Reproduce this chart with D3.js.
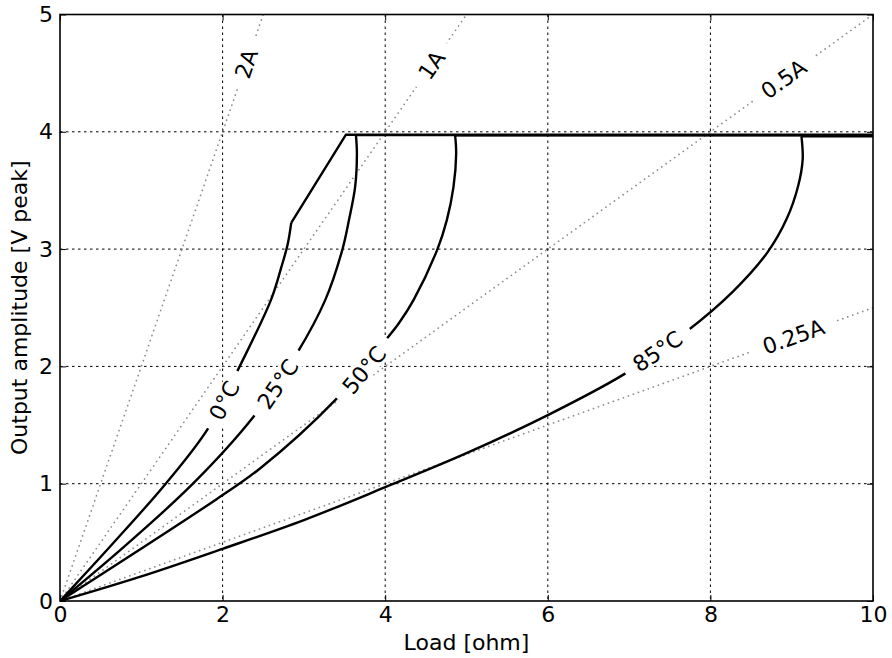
<!DOCTYPE html>
<html>
<head>
<meta charset="utf-8">
<script src="https://cdn.jsdelivr.net/npm/d3@7"></script>
<style>
body { margin: 0; background: #fff; }
text { font-family: "DejaVu Sans", sans-serif; fill: #000; }
</style>
</head>
<body>
<div id="chart"></div>
<script>
var svgWidth = 892;
var svgHeight = 658;
var margin = {top: 14.5, right: 19, bottom: 57, left: 60};
var width = svgWidth - margin.left - margin.right;
var height = svgHeight - margin.top - margin.bottom;

// tick values
var xTicks = [0, 2, 4, 6, 8, 10];
var yTicks = [0, 1, 2, 3, 4, 5];

// constant current guide lines (V = I * R)
var currentNames = ["2A", "1A", "0.5A", "0.25A"];
var currentEndX = [2.5, 5, 10, 10];
var currentEndY = [5, 5, 5, 2.5];
var currentLabelX = [2.29, 4.57, 8.9, 9.02];
var currentLabelY = [4.58, 4.57, 4.45, 2.255];

// temperature curves: smooth part, then the straight part to the clip level
var tempNames = ["0°C", "25°C", "50°C", "85°C"];
var tempLabelX = [2.02, 2.68, 3.74, 7.35];
var tempLabelY = [1.71, 1.85, 1.97, 2.13];

var t0Smooth = [[0, 0], [0.65, 0.49], [1.3, 1.0], [1.82, 1.47], [2.21, 2.0],
  [2.594, 2.565], [2.72, 2.84], [2.8, 3.04], [2.844, 3.224]];
var t0Straight = [[2.844, 3.224], [3.517, 3.975], [10, 3.975]];

var t25Smooth = [[0, 0], [0.8, 0.47], [1.635, 1.0], [2.38, 1.571],
  [2.914, 2.111], [3.262, 2.565], [3.475, 3.0], [3.555, 3.25], [3.63, 3.53],
  [3.652, 3.816], [3.64, 3.972]];
var t25Straight = [[3.64, 3.972], [10, 3.972]];

var t50Smooth = [[0, 0], [1.93, 0.87], [2.46, 1.13], [3.385, 1.713],
  [4.0, 2.22], [4.17, 2.37], [4.348, 2.565], [4.643, 3.0], [4.758, 3.247], [4.84, 3.53],
  [4.873, 3.816], [4.86, 3.97]];
var t50Straight = [[4.86, 3.97], [10, 3.97]];

var t85Smooth = [[0, 0], [1, 0.21], [2, 0.445], [3, 0.69], [4, 0.97], [5, 1.26], [6, 1.585],
  [6.93, 1.93], [7.71, 2.3], [8.28, 2.64], [8.7, 2.97], [8.94, 3.26], [9.08, 3.54],
  [9.135, 3.765], [9.12, 3.962]];
var t85Straight = [[9.12, 3.962], [10, 3.962]];

var tempSmooth = [t0Smooth, t25Smooth, t50Smooth, t85Smooth];
var tempStraight = [t0Straight, t25Straight, t50Straight, t85Straight];

var svg = d3.select("#chart")
  .append("svg")
  .attr("width", svgWidth)
  .attr("height", svgHeight);

var chartGroup = svg.append("g")
  .attr("transform", `translate(${margin.left}, ${margin.top})`);

var xScale = d3.scaleLinear().domain([0, 10]).range([0, width]);
var yScale = d3.scaleLinear().domain([0, 5]).range([height, 0]);

chartGroup.append("clipPath").attr("id", "plotclip")
  .append("rect").attr("width", width).attr("height", height);

// grid
var grid = chartGroup.append("g")
  .attr("stroke", "#000")
  .attr("stroke-width", 1)
  .attr("stroke-dasharray", "2.5,3.5");
grid.selectAll(".vg").data(xTicks.slice(1, -1)).enter().append("line")
  .attr("x1", d => xScale(d)).attr("x2", d => xScale(d))
  .attr("y1", 0).attr("y2", height);
grid.selectAll(".hg").data(yTicks.slice(1, -1)).enter().append("line")
  .attr("y1", d => yScale(d)).attr("y2", d => yScale(d))
  .attr("x1", 0).attr("x2", width);

var plot = chartGroup.append("g").attr("clip-path", "url(#plotclip)");

// current lines
plot.selectAll(".cur").data(currentNames).enter().append("line")
  .attr("x1", xScale(0)).attr("y1", yScale(0))
  .attr("x2", (d, i) => xScale(currentEndX[i]))
  .attr("y2", (d, i) => yScale(currentEndY[i]))
  .attr("stroke", "#8c8c8c")
  .attr("stroke-width", 1.7)
  .attr("stroke-linecap", "round")
  .attr("stroke-dasharray", "0.1,5.2");

// temperature curves
var smoothLine = d3.line()
  .x(d => xScale(d[0])).y(d => yScale(d[1]))
  .curve(d3.curveCatmullRom.alpha(0.5));
var straightLine = d3.line()
  .x(d => xScale(d[0])).y(d => yScale(d[1]));

tempSmooth.forEach(function(pts, i) {
  plot.append("path")
    .attr("d", smoothLine(pts))
    .attr("fill", "none").attr("stroke", "#000").attr("stroke-width", 2.4);
  plot.append("path")
    .attr("d", straightLine(tempStraight[i]))
    .attr("fill", "none").attr("stroke", "#000").attr("stroke-width", 2.4)
    .attr("stroke-linejoin", "miter");
});

// inline labels with a white gap behind them
function addLabel(txt, px, py, angle) {
  var g = chartGroup.append("g")
    .attr("transform", `translate(${px},${py}) rotate(${-angle})`);
  var rect = g.append("rect").attr("fill", "#fff");
  var t = g.append("text")
    .attr("text-anchor", "middle")
    .attr("dy", "0.36em")
    .attr("font-size", 22)
    .text(txt);
  var w = t.node().getComputedTextLength() + 24;
  rect.attr("x", -w / 2).attr("y", -10).attr("width", w).attr("height", 20);
}

currentNames.forEach(function(name, i) {
  var dx = xScale(currentEndX[i]) - xScale(0);
  var dy = yScale(0) - yScale(currentEndY[i]);
  var angle = Math.atan2(dy, dx) * 180 / Math.PI;
  addLabel(name, xScale(currentLabelX[i]), yScale(currentLabelY[i]), angle);
});

tempNames.forEach(function(name, i) {
  var pts = tempSmooth[i];
  var k = 0;
  while (k < pts.length - 2 && pts[k + 1][0] < tempLabelX[i]) k++;
  var dx = xScale(pts[k + 1][0]) - xScale(pts[k][0]);
  var dy = yScale(pts[k][1]) - yScale(pts[k + 1][1]);
  var angle = Math.atan2(dy, dx) * 180 / Math.PI;
  addLabel(name, xScale(tempLabelX[i]), yScale(tempLabelY[i]), angle);
});

// frame
chartGroup.append("rect")
  .attr("width", width).attr("height", height)
  .attr("fill", "none").attr("stroke", "#000").attr("stroke-width", 1.6);

// axes with inward ticks
var bottomAxis = d3.axisBottom(xScale).tickValues(xTicks).tickSizeInner(-6).tickSizeOuter(0).tickPadding(10)
  .tickFormat(d3.format("d"));
var leftAxis = d3.axisLeft(yScale).tickValues(yTicks).tickSizeInner(-6).tickSizeOuter(0).tickPadding(10)
  .tickFormat(d3.format("d"));
var topAxis = d3.axisTop(xScale).tickValues(xTicks).tickSizeInner(-6).tickSizeOuter(0).tickFormat("");
var rightAxis = d3.axisRight(yScale).tickValues(yTicks).tickSizeInner(-6).tickSizeOuter(0).tickFormat("");

var xAxis = chartGroup.append("g")
  .attr("transform", `translate(0, ${height})`)
  .call(bottomAxis);
var yAxis = chartGroup.append("g").call(leftAxis);
chartGroup.append("g").call(topAxis);
chartGroup.append("g").attr("transform", `translate(${width}, 0)`).call(rightAxis);

chartGroup.selectAll(".domain").remove();
chartGroup.selectAll(".tick line").attr("stroke", "#000").attr("stroke-width", 1);
xAxis.selectAll("text").attr("font-size", 22).attr("font-family", "DejaVu Sans").attr("fill", "#000")
  .attr("dy", "0.71em").attr("y", 5);
yAxis.selectAll("text").attr("font-size", 22).attr("font-family", "DejaVu Sans").attr("fill", "#000")
  .attr("x", -7);

// axis labels
chartGroup.append("text")
  .attr("x", width / 2).attr("y", height + 49)
  .attr("text-anchor", "middle")
  .attr("font-size", 22)
  .text("Load [ohm]");

chartGroup.append("text")
  .attr("transform", `translate(${27 - margin.left}, ${height / 2}) rotate(-90)`)
  .attr("text-anchor", "middle")
  .attr("font-size", 22)
  .text("Output amplitude [V peak]");
</script>
</body>
</html>
